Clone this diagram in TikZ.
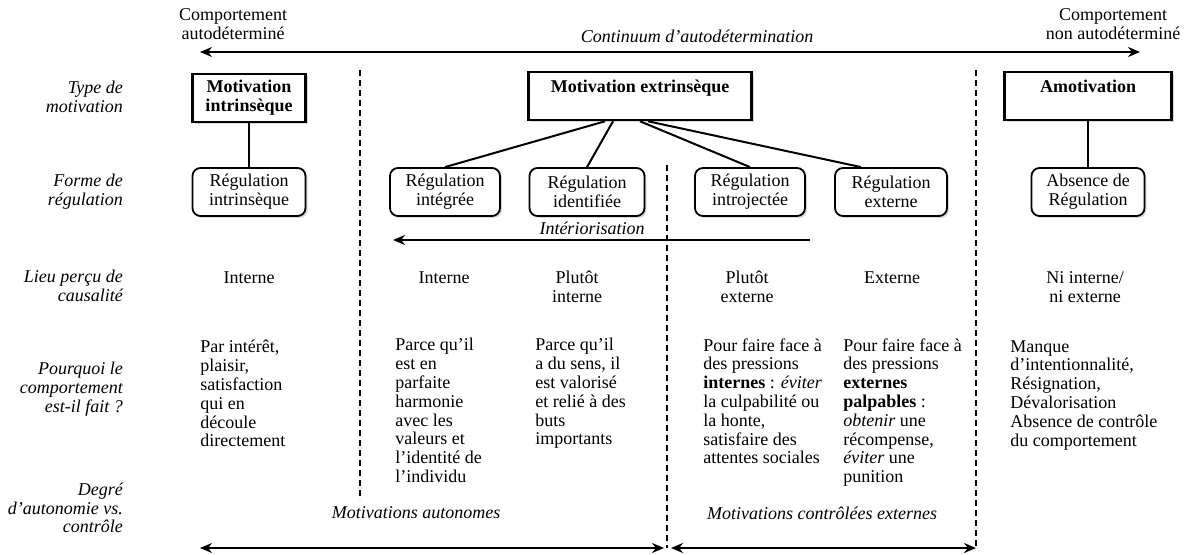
\documentclass[tikz,border=0pt]{standalone}
\usepackage{fontspec}
\setmainfont{Liberation Serif}
\usepackage{tikz}
\usetikzlibrary{arrows.meta}
\usetikzlibrary{shadows}
\usetikzlibrary{calc}

\newcommand{\taille}{\fontsize{9}{9.4}\selectfont}

\tikzset{
  typebox/.style={draw, line width=1.3pt, fill=white, align=center, inner sep=2pt,
    font=\taille\bfseries, drop shadow={opacity=0.3, shadow xshift=1pt, shadow yshift=-1pt}},
  regbox/.style={draw, line width=0.9pt, rounded corners=4pt, fill=white, align=center,
    inner sep=2pt, minimum height=24pt, font=\taille,
    drop shadow={opacity=0.3, shadow xshift=1pt, shadow yshift=-1pt}},
  rowlabel/.style={anchor=east, align=right, font=\taille\itshape},
  lieu/.style={anchor=north, align=center, inner sep=0pt, font=\taille},
  pourquoi/.style={anchor=north west, align=left, inner sep=0pt, font=\taille},
  sep/.style={densely dashed, line width=0.7pt},
  lien/.style={line width=1pt},
  fleche/.style={line width=1.3pt, {Stealth[length=6pt,width=5pt]}-{Stealth[length=6pt,width=5pt]}},
}

\begin{document}
\begin{tikzpicture}[x=0.5pt,y=-0.5pt,font=\taille]
\useasboundingbox (0,0) rectangle (1197,555);

\coordinate (HG) at (200,52);
\coordinate (HD) at (1140,52);
\draw[fleche] (HG) -- (HD);
\node[align=center] (CA) at (233,24) {Comportement\\autodéterminé};
\node[align=center] (CNA) at (1113,24) {Comportement\\non autodéterminé};
\node[font=\taille\itshape] (CONT) at (697,36) {Continuum d'autodétermination};

\node[rowlabel] (L1) at (130,97) {Type de\\motivation};
\node[rowlabel] (L2) at (130,192) {Forme de\\régulation};
\node[rowlabel] (L3) at (130,286) {Lieu perçu de\\causalité};
\node[rowlabel] (L4) at (130,389) {Pourquoi le\\comportement\\est-il fait ?};
\node[rowlabel] (L5) at (130,508) {Degré\\d'autonomie vs.\\contrôle};

\coordinate (S1H) at (360,70);
\coordinate (S1B) at (360,500);
\coordinate (S2H) at (667,165);
\coordinate (S2B) at (667,548);
\coordinate (S3H) at (976,70);
\coordinate (S3B) at (976,548);
\draw[sep] (S1H) -- (S1B);
\draw[sep] (S2H) -- (S2B);
\draw[sep] (S3H) -- (S3B);

\node[typebox, minimum width=56.5pt, minimum height=24pt] (MI) at (249,98) {Motivation\\intrinsèque};
\node[typebox, minimum width=111.5pt, minimum height=24pt] (ME) at (640,96) {Motivation extrinsèque\\~};
\node[typebox, minimum width=83.5pt, minimum height=24pt] (AM) at (1088,96) {Amotivation\\~};

\node[regbox, minimum width=56.5pt] (RI) at (249,192) {Régulation\\intrinsèque};
\node[regbox, minimum width=55pt] (RG) at (445,192) {Régulation\\intégrée};
\node[regbox, minimum width=57.5pt] (RD) at (587,192) {Régulation\\identifiée};
\node[regbox, minimum width=55pt] (RJ) at (750,192) {Régulation\\introjectée};
\node[regbox, minimum width=56pt] (RX) at (891,192) {Régulation\\externe};
\node[regbox, minimum width=56.5pt] (RA) at (1088,192) {Absence de\\Régulation};

\draw[lien] (MI) -- (RI);
\draw[lien] (AM) -- (RA);
\draw[lien] ($(ME.south)+(-35,0)$) -- (RG.north);
\draw[lien] ($(ME.south)+(-27,0)$) -- (RD.north);
\draw[lien] ($(ME.south)+(0,0)$) -- (RJ.north);
\draw[lien] ($(ME.south)+(8,0)$) -- ($(RX.north)+(-30,0)$);

\coordinate (ID) at (810,240);
\coordinate (IG) at (393,240);
\draw[line width=1.3pt, -{Stealth[length=6pt,width=5pt]}] (ID) -- (IG);
\node[font=\taille\itshape] (INT) at (592,228) {Intériorisation};

\node[lieu] (C1) at (249,271) {Interne};
\node[lieu] (C2) at (444,271) {Interne};
\node[lieu] (C3) at (577,271) {Plutôt\\interne};
\node[lieu] (C4) at (747,271) {Plutôt\\externe};
\node[lieu] (C5) at (892,271) {Externe};
\node[lieu] (C6) at (1085,271) {Ni interne/\\ni externe};

\node[pourquoi] (P1) at (200,340) {Par intérêt,\\plaisir,\\satisfaction\\qui en\\découle\\directement};
\node[pourquoi] (P2) at (395,338) {Parce qu'il\\est en\\parfaite\\harmonie\\avec les\\valeurs et\\l'identité de\\l'individu};
\node[pourquoi] (P3) at (535,338) {Parce qu'il\\a du sens, il\\est valorisé\\et relié à des\\buts\\importants};
\node[pourquoi] (P4) at (703,338) {Pour faire face à\\des pressions\\\textbf{internes} : \textit{éviter}\\la culpabilité ou\\la honte,\\satisfaire des\\attentes sociales};
\node[pourquoi] (P5) at (843,338) {Pour faire face à\\des pressions\\\textbf{externes}\\\textbf{palpables} :\\\textit{obtenir} une\\récompense,\\\textit{éviter} une\\punition};
\node[pourquoi] (P6) at (1010,340) {Manque\\d'intentionnalité,\\Résignation,\\Dévalorisation\\Absence de contrôle\\du comportement};

\node[font=\taille\itshape] (MA) at (416,513) {Motivations autonomes};
\node[font=\taille\itshape] (MC) at (822,513) {Motivations contrôlées externes};
\coordinate (BG1) at (200,548);
\coordinate (BD1) at (664,548);
\coordinate (BG2) at (671,548);
\coordinate (BD2) at (976,548);
\draw[fleche] (BG1) -- (BD1);
\draw[fleche] (BG2) -- (BD2);
\end{tikzpicture}
\end{document}
